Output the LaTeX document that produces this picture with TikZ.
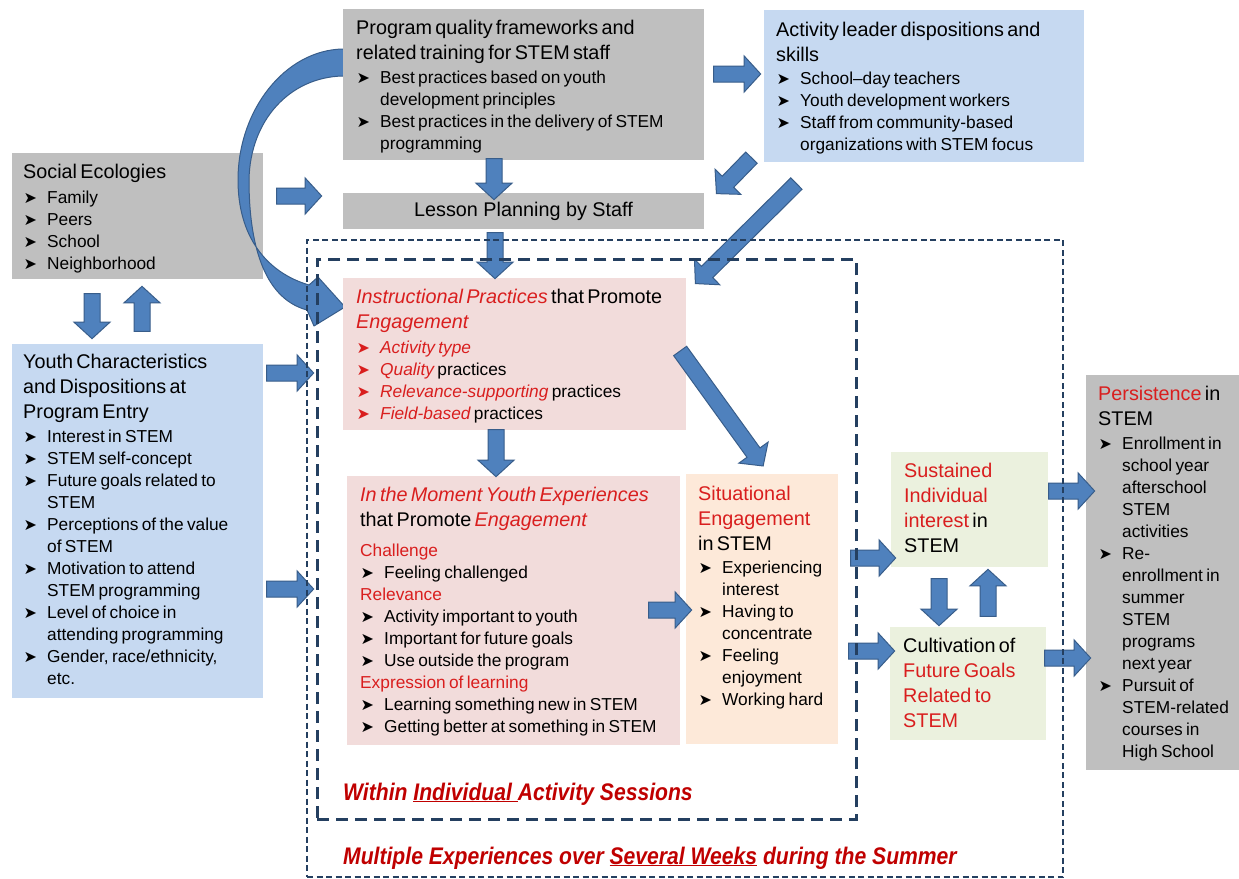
\documentclass[tikz,border=0pt]{standalone}
\usepackage{fontspec}
\setmainfont{Liberation Sans}
\newfontfamily\dejavu{DejaVu Sans}
\newfontfamily\narrowfont[FakeStretch=0.88]{Liberation Sans}
\usetikzlibrary{calc,shapes.arrows}
\definecolor{cgray}{HTML}{BFBFBF}
\definecolor{cblue}{HTML}{C6D9F1}
\definecolor{cpink}{HTML}{F2DCDB}
\definecolor{cpeach}{HTML}{FDE9D9}
\definecolor{cgreen}{HTML}{EBF1DE}
\definecolor{afill}{HTML}{4F81BD}
\definecolor{aline}{HTML}{385D8A}
\definecolor{cred}{HTML}{D91E1E}
\definecolor{dred}{HTML}{C00000}
\definecolor{cdash}{HTML}{243F60}
\newcommand\hd{\fontsize{19.8}{25}\selectfont}
\newcommand\sm{\fontsize{17.3}{22}\selectfont}
\newcommand\hs{\rule{0pt}{15pt}}
\newcommand\bul{{\dejavu\fontsize{16}{16}\selectfont\raisebox{-0.5pt}{➤}}}
\newcommand\itm[2][black]{\par\noindent\hangindent=24pt\hangafter=1\makebox[24pt][l]{\hspace{0.5pt}\textcolor{#1}{\bul}}#2}
\newcommand\R[1]{\textcolor{cred}{\itshape #1}}
\newcommand\Rn[1]{\textcolor{cred}{#1}}
\newcommand\barrow[3][]{\path let \p1=#2, \p2=#3, \n1={atan2(\y2-\y1,\x2-\x1)}, \n2={veclen(\x2-\x1,\y2-\y1)} in node[barrow,#1,rotate=\n1,minimum height=\n2] at ($(\p1)!0.5!(\p2)$) {\rule{0pt}{15pt}};}
\tikzset{
  boxst/.style={draw=none, inner sep=0pt, outer sep=0pt, anchor=north west},
  txt/.style={inner sep=0pt, anchor=north west, text width=400pt},
  barrow/.style={single arrow, fill=afill, draw=aline, line width=1pt, inner sep=0pt, outer sep=0pt,
     single arrow head extend=10pt, single arrow tip angle=95, minimum width=0pt},
  outerdash/.style={draw=cdash, line width=2pt, dash pattern=on 6pt off 3.5pt, inner sep=0pt, anchor=north west},
  innerdash/.style={draw=cdash, line width=2.5pt, dash pattern=on 12pt off 7pt, inner sep=0pt, anchor=north west},
  lab/.style={anchor=base west, inner sep=0pt, text=dred, font=\narrowfont\bfseries\itshape\fontsize{24}{24}\selectfont}
}
\begin{document}
\begin{tikzpicture}[x=1pt,y=-1pt]
\useasboundingbox (0,0) rectangle (1239,878);
\fill[white] (0,0) rectangle (1239,878);

% Social ecologies box (under the curved arrow)
\node[boxst, fill=cgray, minimum width=251pt, minimum height=126pt] (soc) at (12,153) {};

% curved arrow from program box to instructional practices
\filldraw[fill=afill, draw=aline, line width=1pt, line join=round]
  (352,49) -- (343,49) .. controls (285,50) and (238,110) .. (238,180)
  .. controls (238,235) and (265,272) .. (309,285) -- (318,277) -- (345,307) -- (314,326) -- (307,310)
  .. controls (262,298) and (249,240) .. (249,180)
  .. controls (250,120) and (290,77) .. (343,76) -- (352,76) -- cycle;

% boxes
\node[boxst, fill=cgray, minimum width=361pt, minimum height=151pt] (prog) at (343,9) {};
\node[boxst, fill=cgray, minimum width=361pt, minimum height=36pt, font=\hd] (less) at (343,193) {Lesson Planning by Staff};
\node[boxst, fill=cblue, minimum width=320pt, minimum height=152pt] (act) at (764,10) {};
\node[boxst, fill=cblue, minimum width=251pt, minimum height=354pt] (youth) at (12,344) {};
\node[boxst, fill=cpink, minimum width=343pt, minimum height=152pt] (instr) at (343,278) {};
\node[boxst, fill=cpink, minimum width=333pt, minimum height=269pt] (mom) at (347,476) {};
\node[boxst, fill=cpeach, minimum width=152pt, minimum height=270pt] (sit) at (686,474) {};
\node[boxst, fill=cgreen, minimum width=157pt, minimum height=115pt] (sus) at (891,452) {};
\node[boxst, fill=cgreen, minimum width=156pt, minimum height=113pt] (cul) at (890,627) {};
\node[boxst, fill=cgray, minimum width=153pt, minimum height=395pt] (pers) at (1086,375) {};

% texts
\node[txt] (soct) at (23,163) {\hd\hs Social Ecologies\par\vspace{3pt}\sm
  \itm{Family}\itm{Peers}\itm{School}\itm{Neighborhood}\par};
\node[txt] (progt) at (356,19) {\hd\hs Program quality frameworks and\newline related training for STEM staff\par\vspace{2pt}\sm
  \itm{Best practices based on youth\newline development principles}\itm{Best practices in the delivery of STEM\newline programming}\par};
\node[txt] (actt) at (776,21) {\hd\hs Activity leader dispositions and\newline skills\par\vspace{1pt}\sm
  \itm{School–day teachers}\itm{Youth development workers}\itm{Staff from community-based\newline organizations with STEM focus}\par};
\node[txt] (youtht) at (23,353) {\hd\hs Youth Characteristics\newline and Dispositions at\newline Program Entry\par\vspace{2pt}\sm
  \itm{Interest in STEM}\itm{STEM self-concept}\itm{Future goals related to\newline STEM}\itm{Perceptions of the value\newline of STEM}\itm{Motivation to attend\newline STEM programming}\itm{Level of choice in\newline attending programming}\itm{Gender, race/ethnicity,\newline etc.}\par};
\node[txt] (instrt) at (356,288) {\hd\hs\R{Instructional Practices} that Promote\newline \R{Engagement}\par\vspace{3pt}\sm
  \itm[cred]{\R{Activity type}}\itm[cred]{\R{Quality} practices}\itm[cred]{\R{Relevance-supporting} practices}\itm[cred]{\R{Field-based} practices}\par};
\node[txt] (momt) at (360,486) {\hd\hs\R{In the Moment Youth Experiences}\newline that Promote \R{Engagement}\par\vspace{8pt}\sm
  \noindent\Rn{Challenge}\itm{Feeling challenged}\par\noindent\Rn{Relevance}\itm{Activity important to youth}\itm{Important for future goals}\itm{Use outside the program}\par\noindent\Rn{Expression of learning}\itm{Learning something new in STEM}\itm{Getting better at something in STEM}\par};
\node[txt] (sitt) at (698,485) {\hd\hs\Rn{Situational}\newline\Rn{Engagement}\newline in STEM\par\vspace{1pt}\sm
  \itm{Experiencing\newline interest}\itm{Having to\newline concentrate}\itm{Feeling\newline enjoyment}\itm{Working hard}\par};
\node[txt] (sust) at (904,462) {\hd\hs\Rn{Sustained}\newline\Rn{Individual}\newline\Rn{interest} in\newline STEM\par};
\node[txt] (cult) at (903,637) {\hd\hs Cultivation of\newline\Rn{Future Goals}\newline\Rn{Related to}\newline\Rn{STEM}\par};
\node[txt] (perst) at (1098,385) {\hd\hs\Rn{Persistence} in\newline STEM\par\vspace{2pt}\sm
  \itm{Enrollment in\newline school year\newline afterschool\newline STEM\newline activities}\itm{Re-\newline enrollment in\newline summer\newline STEM\newline programs\newline next year}\itm{Pursuit of\newline STEM-related\newline courses in\newline High School}\par};

% arrow end points
\coordinate (a1s) at (273,196);  \coordinate (a1e) at (318,196);
\coordinate (a2s) at (92,290);   \coordinate (a2e) at (92,335);
\coordinate (a3s) at (142,335);  \coordinate (a3e) at (142,290);
\coordinate (a4s) at (263,373);  \coordinate (a4e) at (310,373);
\coordinate (a5s) at (263,589);  \coordinate (a5e) at (310,589);
\coordinate (a6s) at (494,155);  \coordinate (a6e) at (494,196);
\coordinate (a7s) at (495,229);  \coordinate (a7e) at (495,275);
\coordinate (a8s) at (710,74);   \coordinate (a8e) at (757,74);
\coordinate (a9s) at (754,155);  \coordinate (a9e) at (719,191);
\coordinate (a10s) at (799,181); \coordinate (a10e) at (698,281);
\coordinate (a12s) at (496,426); \coordinate (a12e) at (496,473);
\coordinate (a13s) at (678,348); \coordinate (a13e) at (761,463);
\coordinate (a14s) at (645,610); \coordinate (a14e) at (688,610);
\coordinate (a15s) at (847,558); \coordinate (a15e) at (892,558);
\coordinate (a16s) at (845,651); \coordinate (a16e) at (891,651);
\coordinate (a17s) at (939,575); \coordinate (a17e) at (939,622);
\coordinate (a18s) at (988,620); \coordinate (a18e) at (988,573);
\coordinate (a19s) at (1045,491); \coordinate (a19e) at (1091,491);
\coordinate (a20s) at (1041,658); \coordinate (a20e) at (1087,658);

\barrow[name=ar1]{(a1s)}{(a1e)}
\barrow[name=ar2]{(a2s)}{(a2e)}
\barrow[name=ar3]{(a3s)}{(a3e)}
\barrow[name=ar4]{(a4s)}{(a4e)}
\barrow[name=ar5]{(a5s)}{(a5e)}
\barrow[name=ar6]{(a6s)}{(a6e)}
\barrow[name=ar7]{(a7s)}{(a7e)}
\barrow[name=ar8]{(a8s)}{(a8e)}
\barrow[name=ar9]{(a9s)}{(a9e)}
\barrow[name=ar10]{(a10s)}{(a10e)}
\barrow[name=ar12]{(a12s)}{(a12e)}
\barrow[name=ar13]{(a13s)}{(a13e)}
\barrow[name=ar14]{(a14s)}{(a14e)}
\barrow[name=ar15]{(a15s)}{(a15e)}
\barrow[name=ar16]{(a16s)}{(a16e)}
\barrow[name=ar17]{(a17s)}{(a17e)}
\barrow[name=ar18]{(a18s)}{(a18e)}
\barrow[name=ar19]{(a19s)}{(a19e)}
\barrow[name=ar20]{(a20s)}{(a20e)}

% dashed frames
\node[outerdash, minimum width=756pt, minimum height=637pt] (outer) at (306,239) {};
\node[innerdash, minimum width=539pt, minimum height=560pt] (inner) at (316,258) {};

% frame labels
\node[lab] (lab1) at (343,800) {Within \underline{Individual\ }Activity Sessions};
\node[lab] (lab2) at (343,864) {Multiple Experiences over \underline{Several Weeks} during the Summer};
\end{tikzpicture}
\end{document}
